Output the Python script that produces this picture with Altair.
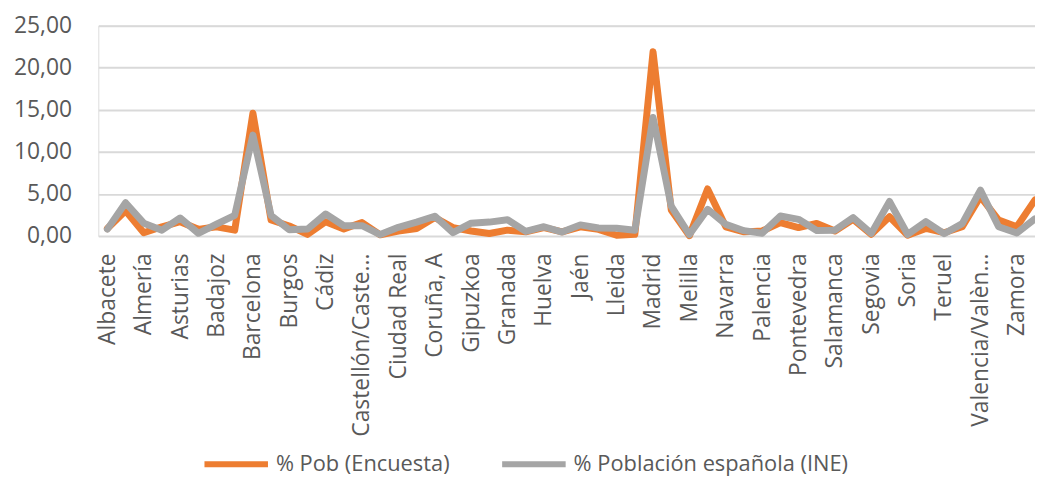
import altair as alt
import pandas as pd
import json

provinces = [
    "Albacete", "Alicante/Alacant", "Almería", "Araba/Álava", "Asturias", "Ávila",
    "Badajoz", "Balears, Illes", "Barcelona", "Bizkaia", "Burgos", "Cáceres",
    "Cádiz", "Cantabria", "Castellón/Castelló", "Ceuta", "Ciudad Real", "Córdoba",
    "Coruña, A", "Cuenca", "Gipuzkoa", "Girona", "Granada", "Guadalajara",
    "Huelva", "Huesca", "Jaén", "León", "Lleida", "Lugo",
    "Madrid", "Málaga", "Melilla", "Murcia", "Navarra", "Ourense",
    "Palencia", "Palmas, Las", "Pontevedra", "Rioja, La", "Salamanca", "Santa Cruz de Tenerife",
    "Segovia", "Sevilla", "Soria", "Tarragona", "Teruel", "Toledo",
    "Valencia/València", "Valladolid", "Zamora", "Zaragoza",
]

# tick labels as displayed (every second category, truncated as in the original)
tick_labels = [
    "Albacete", "Almería", "Asturias", "Badajoz", "Barcelona", "Burgos", "Cádiz",
    "Castellón/Caste...", "Ciudad Real", "Coruña, A", "Gipuzkoa", "Granada", "Huelva",
    "Jaén", "Lleida", "Madrid", "Melilla", "Navarra", "Palencia", "Pontevedra",
    "Salamanca", "Segovia", "Soria", "Teruel", "Valencia/Valèn...", "Zamora",
]

pob_encuesta = [
    0.9, 3.0, 0.4, 1.1, 1.7, 0.8,
    1.1, 0.7, 14.6, 1.9, 1.2, 0.2,
    1.7, 0.85, 1.6, 0.15, 0.6, 0.9,
    2.2, 1.0, 0.6, 0.3, 0.7, 0.5,
    1.0, 0.5, 1.1, 0.8, 0.1, 0.2,
    21.9, 3.1, 0.05, 5.6, 1.1, 0.5,
    0.6, 1.6, 1.0, 1.5, 0.6, 2.0,
    0.2, 2.3, 0.1, 0.9, 0.4, 1.1,
    4.7, 1.9, 1.1, 4.3,
]

pob_ine = [
    0.82, 3.96, 1.53, 0.70, 2.15, 0.33,
    1.42, 2.47, 12.0, 2.44, 0.75, 0.83,
    2.62, 1.23, 1.24, 0.18, 1.04, 1.65,
    2.36, 0.41, 1.53, 1.66, 1.94, 0.55,
    1.11, 0.47, 1.33, 0.96, 0.93, 0.69,
    14.1, 3.55, 0.18, 3.18, 1.39, 0.64,
    0.34, 2.38, 1.99, 0.67, 0.70, 2.20,
    0.32, 4.11, 0.19, 1.72, 0.28, 1.48,
    5.46, 1.10, 0.36, 2.05,
]

series_names = ["% Pob (Encuesta)", "% Población española (INE)"]
series_colors = ["#ED7D31", "#A5A5A5"]

rows = []
for i, p in enumerate(provinces):
    rows.append({"idx": i, "provincia": p, "serie": series_names[0], "valor": pob_encuesta[i]})
    rows.append({"idx": i, "provincia": p, "serie": series_names[1], "valor": pob_ine[i]})
df = pd.DataFrame(rows)

tick_values = list(range(0, len(provinces), 2))
label_expr = json.dumps(tick_labels) + "[round(datum.value / 2)]"

FONT = "Open Sans"
TXT = "#595959"

x_enc = alt.X(
    "idx:Q",
    scale=alt.Scale(domain=[-0.5, len(provinces) - 1], nice=False, zero=False),
    axis=alt.Axis(
        values=tick_values, labelExpr=label_expr, labelAngle=-90,
        labelAlign="right", labelBaseline="middle", labelPadding=17,
        ticks=False, tickSize=0, domain=False, grid=False, title=None,
        labelFont=FONT, labelFontSize=23, labelColor=TXT, labelOverlap=False,
        labelLimit=400,
    ),
)
y_enc = alt.Y(
    "valor:Q",
    scale=alt.Scale(domain=[0, 25], nice=False),
    axis=alt.Axis(
        values=[0, 5, 10, 15, 20, 25],
        labelExpr="replace(format(datum.value, '.2f'), '.', ',')",
        ticks=False, tickSize=0, domain=False, grid=True, gridColor="#D9D9D9",
        gridWidth=2, labelPadding=27, title=None,
        labelFont=FONT, labelFontSize=23, labelColor=TXT,
    ),
)
color_enc = alt.Color(
    "serie:N",
    scale=alt.Scale(domain=series_names, range=series_colors),
    legend=alt.Legend(
        title=None, orient="none", direction="horizontal", legendX=104, legendY=407,
        symbolType="stroke", symbolSize=4096, symbolStrokeWidth=6,
        labelFont=FONT, labelFontSize=22, labelColor=TXT, labelOffset=5,
        columnPadding=40, padding=0, labelLimit=400,
    ),
)

base = alt.Chart(df).mark_line(strokeWidth=7, strokeJoin="round", strokeCap="round")

layer_enc = base.transform_filter(alt.datum.serie == series_names[0]).encode(
    x=x_enc, y=y_enc, color=color_enc
)
layer_ine = base.transform_filter(alt.datum.serie == series_names[1]).encode(
    x=x_enc, y=y_enc, color=color_enc
)

chart = alt.layer(layer_enc, layer_ine).properties(
    width=944, height=212,
    autosize=alt.AutoSizeParams(type="none"),
    padding={"left": 91, "top": 16, "right": 0, "bottom": 242},
).configure_view(stroke=None).configure(background="white")

chart.save("out.html", embed_options={"renderer": "svg", "actions": False})
